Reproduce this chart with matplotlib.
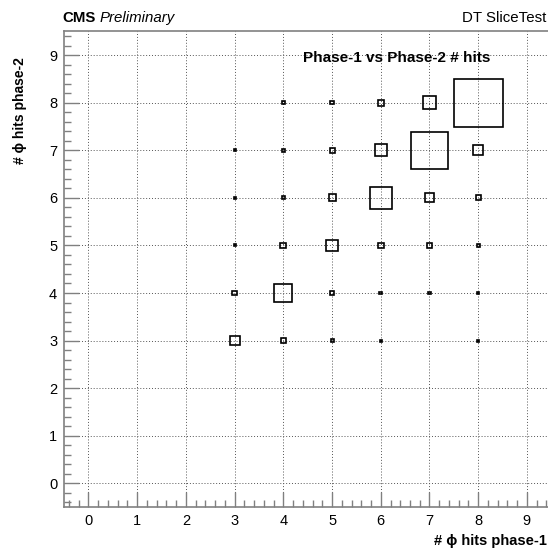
import numpy as np
import matplotlib
matplotlib.use("Agg")
import matplotlib.pyplot as plt
from matplotlib.patches import Rectangle
from matplotlib.ticker import MultipleLocator

# bin centres and estimated bin contents (rows: phase-2 hits, cols: phase-1 hits)
hits_phase1 = [3, 4, 5, 6, 7, 8]
hits_phase2 = [3, 4, 5, 6, 7, 8]
counts = [
    [416, 84, 37, 17, 0, 17],          # phase-2 = 3
    [84, 1349, 84, 37, 26, 17],        # phase-2 = 4
    [17, 150, 600, 150, 104, 37],      # phase-2 = 5
    [17, 37, 204, 2016, 337, 104],     # phase-2 = 6
    [17, 37, 104, 600, 6014, 416],     # phase-2 = 7
    [0, 37, 50, 176, 704, 10000],      # phase-2 = 8
]
x_ticks = list(range(0, 10))
y_ticks = list(range(0, 10))

plt.rcParams['font.family'] = ['Liberation Sans', 'DejaVu Sans']
frame_col = '#808080'

fig = plt.figure(figsize=(5.48, 5.5), dpi=100)
ax = fig.add_axes([0.117, 0.078, 0.889, 0.865])

counts = np.array(counts, dtype=float)
cmax = counts.max()
for j, yv in enumerate(hits_phase2):
    for i, xv in enumerate(hits_phase1):
        c = counts[j, i]
        if c <= 0:
            continue
        # ROOT "BOX": box surface proportional to content
        side = np.sqrt(c / cmax)
        ax.add_patch(Rectangle((xv - side / 2, yv - side / 2), side, side,
                               fill=False, edgecolor='black', lw=1.2, zorder=3))

ax.set_xlim(-0.5, 9.5)
ax.set_ylim(-0.5, 9.5)
ax.set_xticks(x_ticks)
ax.set_yticks(y_ticks)
ax.xaxis.set_minor_locator(MultipleLocator(0.2))
ax.yaxis.set_minor_locator(MultipleLocator(0.2))
ax.tick_params(which='both', direction='in', colors=frame_col, labelcolor='black',
               top=False, right=False, labelsize=10.5, width=1.0)
ax.tick_params(which='major', length=10.5, pad=5)
ax.tick_params(which='minor', length=5.2)
ax.grid(True, which='major', linestyle=(0, (1, 2)), color='#555555', lw=0.7)
ax.set_axisbelow(True)
for sp in ax.spines.values():
    sp.set_color(frame_col)
    sp.set_linewidth(1.2)

# header texts
fig.text(62 / 548, 1 - 18 / 550, 'CMS', fontsize=10.8, fontweight='bold', va='center')
fig.text(100 / 548, 1 - 18 / 550, 'Preliminary', fontsize=10.8, style='italic', va='center')
fig.text(546 / 548, 1 - 18 / 550, 'DT SliceTest', fontsize=10.8, ha='right', va='center')
ax.text(0.875, 0.945, 'Phase-1 vs Phase-2 # hits', transform=ax.transAxes,
        fontsize=11, fontweight='bold', ha='right', va='center')

# axis titles
fig.text(547 / 548, 1 - 541 / 550, '# \u03d5 hits phase-1', fontsize=10.5, fontweight='bold',
         ha='right', va='center')
fig.text(20 / 548, 1 - 57 / 550, '# \u03d5 hits phase-2', fontsize=10, fontweight='bold',
         ha='center', va='top', rotation=90)

fig.savefig('out.png', dpi=100)
